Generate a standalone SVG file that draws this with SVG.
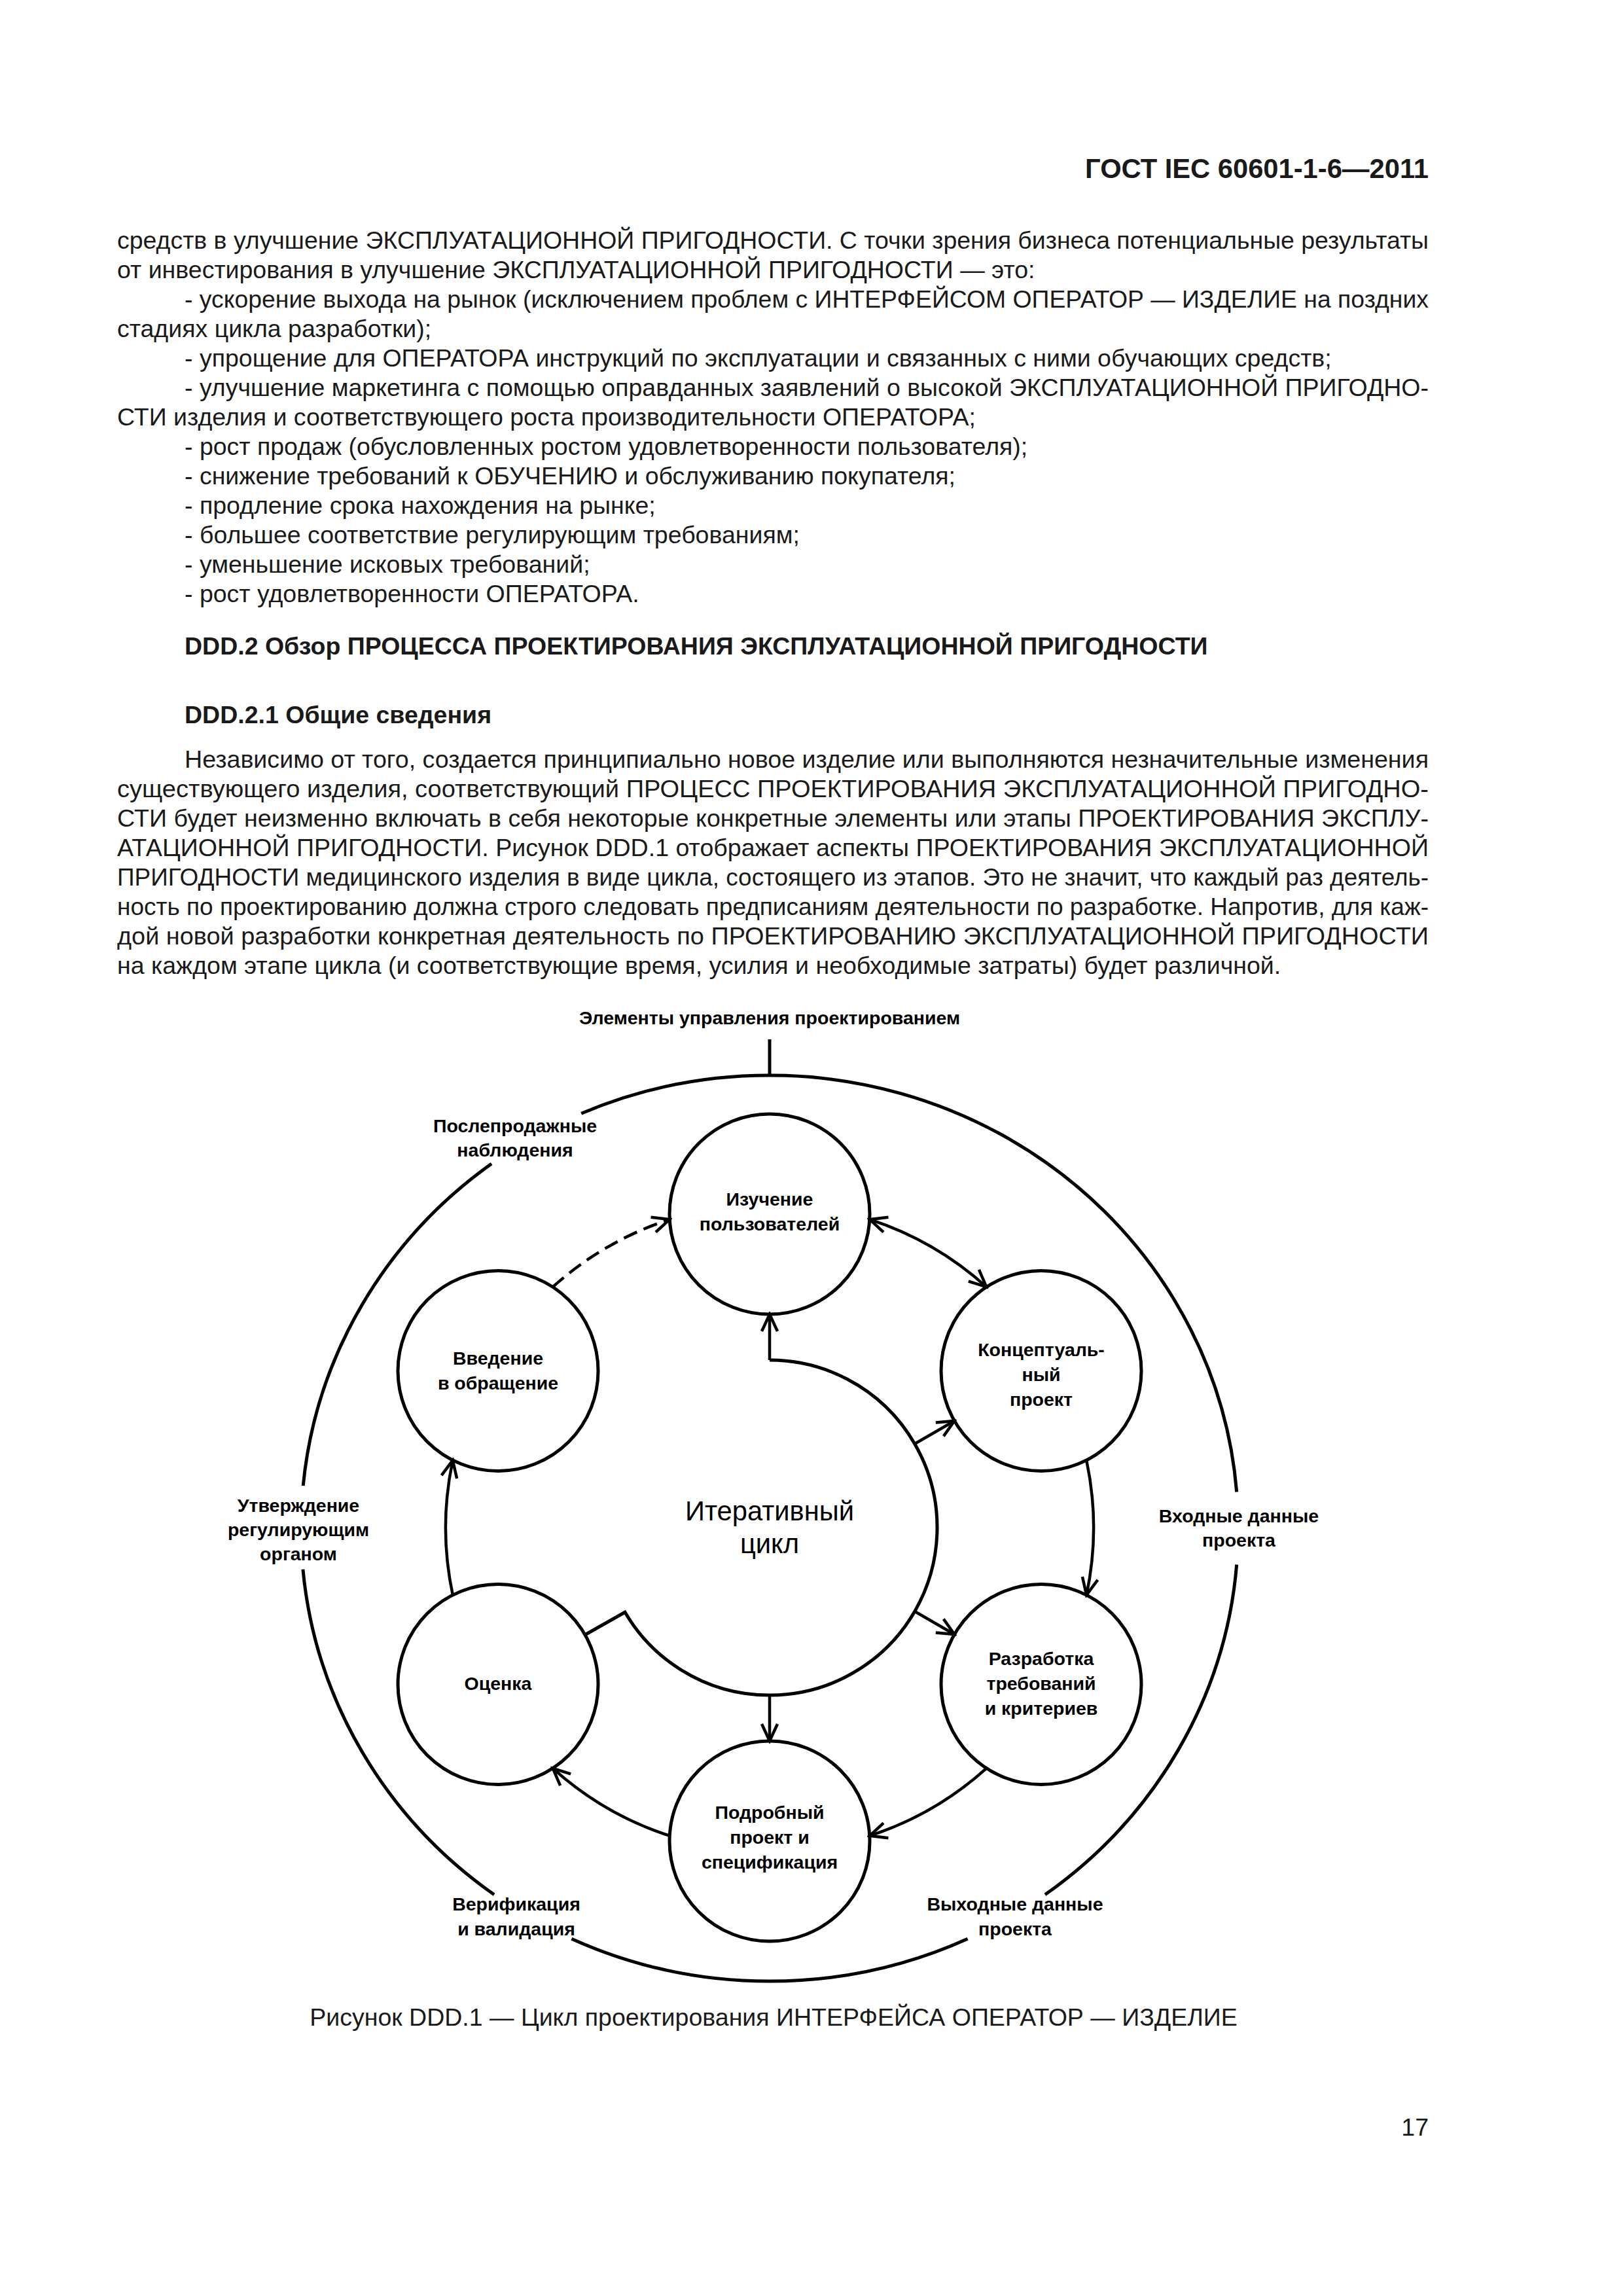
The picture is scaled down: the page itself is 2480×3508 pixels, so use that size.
<svg xmlns="http://www.w3.org/2000/svg" width="2480" height="3508" viewBox="0 0 2480 3508">
<style>
.t{font-family:"Liberation Sans",Arial,sans-serif;font-size:37.5px;fill:#1a1a1a}
.b{font-weight:bold}
.hd{font-family:"Liberation Sans",Arial,sans-serif;font-size:41.7px;font-weight:bold;fill:#1a1a1a}
.lb{font-family:"Liberation Sans",Arial,sans-serif;font-size:28.5px;font-weight:bold;fill:#000;text-anchor:middle}
.big{font-family:"Liberation Sans",Arial,sans-serif;font-size:41.7px;fill:#000;text-anchor:middle}
.node{fill:none;stroke:#000;stroke-width:5}
.ring{fill:none;stroke:#000;stroke-width:5}
.con{fill:none;stroke:#000;stroke-width:4.5}
.dash{stroke-dasharray:22 11}
</style>
<defs>
<marker id="ah" viewBox="-32 -18 36 36" refX="0" refY="0" markerWidth="36" markerHeight="36" markerUnits="userSpaceOnUse" orient="auto-start-reverse">
<path d="M-26,-12 L0,0 L-26,12" fill="none" stroke="#000" stroke-width="4.5"/>
</marker>
</defs>
<rect width="2480" height="3508" fill="#fff"/>

<text class="hd" x="2183" y="272" text-anchor="end">ГОСТ IEC 60601-1-6—2011</text>

<g id="body-text">
<text class="t" x="179" y="380" textLength="2004" lengthAdjust="spacingAndGlyphs">средств в улучшение ЭКСПЛУАТАЦИОННОЙ ПРИГОДНОСТИ. С точки зрения бизнеса потенциальные результаты</text>
<text class="t" x="179" y="425">от инвестирования в улучшение ЭКСПЛУАТАЦИОННОЙ ПРИГОДНОСТИ — это:</text>
<text class="t" x="282" y="470" textLength="1901" lengthAdjust="spacingAndGlyphs">- ускорение выхода на рынок (исключением проблем с ИНТЕРФЕЙСОМ ОПЕРАТОР — ИЗДЕЛИЕ на поздних</text>
<text class="t" x="179" y="515">стадиях цикла разработки);</text>
<text class="t" x="282" y="560">- упрощение для ОПЕРАТОРА инструкций по эксплуатации и связанных с ними обучающих средств;</text>
<text class="t" x="282" y="605" textLength="1901" lengthAdjust="spacingAndGlyphs">- улучшение маркетинга с помощью оправданных заявлений о высокой ЭКСПЛУАТАЦИОННОЙ ПРИГОДНО-</text>
<text class="t" x="179" y="650">СТИ изделия и соответствующего роста производительности ОПЕРАТОРА;</text>
<text class="t" x="282" y="695">- рост продаж (обусловленных ростом удовлетворенности пользователя);</text>
<text class="t" x="282" y="740">- снижение требований к ОБУЧЕНИЮ и обслуживанию покупателя;</text>
<text class="t" x="282" y="785">- продление срока нахождения на рынке;</text>
<text class="t" x="282" y="830">- большее соответствие регулирующим требованиям;</text>
<text class="t" x="282" y="875">- уменьшение исковых требований;</text>
<text class="t" x="282" y="920">- рост удовлетворенности ОПЕРАТОРА.</text>

<text class="t b" x="282" y="1000">DDD.2 Обзор ПРОЦЕССА ПРОЕКТИРОВАНИЯ ЭКСПЛУАТАЦИОННОЙ ПРИГОДНОСТИ</text>
<text class="t b" x="282" y="1105">DDD.2.1 Общие сведения</text>

<text class="t" x="282" y="1173" textLength="1901" lengthAdjust="spacingAndGlyphs">Независимо от того, создается принципиально новое изделие или выполняются незначительные изменения</text>
<text class="t" x="179" y="1218" textLength="2004" lengthAdjust="spacingAndGlyphs">существующего изделия, соответствующий ПРОЦЕСС ПРОЕКТИРОВАНИЯ ЭКСПЛУАТАЦИОННОЙ ПРИГОДНО-</text>
<text class="t" x="179" y="1263" textLength="2004" lengthAdjust="spacingAndGlyphs">СТИ будет неизменно включать в себя некоторые конкретные элементы или этапы ПРОЕКТИРОВАНИЯ ЭКСПЛУ-</text>
<text class="t" x="179" y="1308" textLength="2004" lengthAdjust="spacingAndGlyphs">АТАЦИОННОЙ ПРИГОДНОСТИ. Рисунок DDD.1 отображает аспекты ПРОЕКТИРОВАНИЯ ЭКСПЛУАТАЦИОННОЙ</text>
<text class="t" x="179" y="1353" textLength="2004" lengthAdjust="spacingAndGlyphs">ПРИГОДНОСТИ медицинского изделия в виде цикла, состоящего из этапов. Это не значит, что каждый раз деятель-</text>
<text class="t" x="179" y="1398" textLength="2004" lengthAdjust="spacingAndGlyphs">ность по проектированию должна строго следовать предписаниям деятельности по разработке. Напротив, для каж-</text>
<text class="t" x="179" y="1443" textLength="2004" lengthAdjust="spacingAndGlyphs">дой новой разработки конкретная деятельность по ПРОЕКТИРОВАНИЮ ЭКСПЛУАТАЦИОННОЙ ПРИГОДНОСТИ</text>
<text class="t" x="179" y="1488">на каждом этапе цикла (и соответствующие время, усилия и необходимые затраты) будет различной.</text>
</g>

<g id="outer-cycle">
<path class="ring" d="M888.2,1701.3 A716,692 0 0 1 1889.7,2279.5"/>
<path class="ring" d="M1889.7,2390.5 A716,692 0 0 1 1596.9,2894.8"/>
<path class="ring" d="M1478.6,2962.2 A716,692 0 0 1 873.4,2962.2"/>
<path class="ring" d="M755.1,2894.8 A716,692 0 0 1 462.9,2397.7"/>
<path class="ring" d="M463.2,2269.9 A716,692 0 0 1 751.1,1778.0"/>
<line class="ring" x1="1176" y1="1588" x2="1176" y2="1643"/>
</g>

<g id="outer-labels">
<text class="lb" x="1176" y="1565">Элементы управления проектированием</text>
<text class="lb" x="787" y="1730">Послепродажные</text>
<text class="lb" x="787" y="1767">наблюдения</text>
<text class="lb" x="1893" y="2326">Входные данные</text>
<text class="lb" x="1893" y="2363">проекта</text>
<text class="lb" x="1551" y="2919">Выходные данные</text>
<text class="lb" x="1551" y="2957">проекта</text>
<text class="lb" x="789" y="2919">Верификация</text>
<text class="lb" x="789" y="2957">и валидация</text>
<text class="lb" x="456" y="2310">Утверждение</text>
<text class="lb" x="456" y="2347">регулирующим</text>
<text class="lb" x="456" y="2384">органом</text>
</g>

<g id="iterative-cycle">
<path class="ring" d="M1176,2078 A256,256 0 1 1 955,2463.2 L894,2497.7"/>
<text class="big" x="1176" y="2323">Итеративный</text>
<text class="big" x="1176" y="2373">цикл</text>
</g>

<g id="node-users">
<circle class="node" cx="1176" cy="1855" r="153"/>
<text class="lb" x="1176" y="1842">Изучение</text>
<text class="lb" x="1176" y="1880">пользователей</text>
</g>
<g id="node-concept">
<circle class="node" cx="1591" cy="2094.5" r="153"/>
<text class="lb" x="1591" y="2072">Концептуаль-</text>
<text class="lb" x="1591" y="2110">ный</text>
<text class="lb" x="1591" y="2148">проект</text>
</g>
<g id="node-requirements">
<circle class="node" cx="1591" cy="2573.5" r="153"/>
<text class="lb" x="1591" y="2544">Разработка</text>
<text class="lb" x="1591" y="2582">требований</text>
<text class="lb" x="1591" y="2620">и критериев</text>
</g>
<g id="node-detailed">
<circle class="node" cx="1176" cy="2813" r="153"/>
<text class="lb" x="1176" y="2779">Подробный</text>
<text class="lb" x="1176" y="2817">проект и</text>
<text class="lb" x="1176" y="2855">спецификация</text>
</g>
<g id="node-evaluation">
<circle class="node" cx="761" cy="2573.5" r="153"/>
<text class="lb" x="761" y="2582">Оценка</text>
</g>
<g id="node-release">
<circle class="node" cx="761" cy="2094.5" r="153"/>
<text class="lb" x="761" y="2085">Введение</text>
<text class="lb" x="761" y="2123">в обращение</text>
</g>

<g id="connectors">
<path class="con" d="M1329.0,1863.2 A495,495 0 0 1 1507.2,1966.2" marker-start="url(#ah)" marker-end="url(#ah)"/>
<path class="con" d="M1660.2,2231.1 A495,495 0 0 1 1660.2,2436.9" marker-end="url(#ah)"/>
<path class="con" d="M1507.2,2701.8 A495,495 0 0 1 1329.0,2804.8" marker-end="url(#ah)"/>
<path class="con" d="M1023.0,2804.8 A495,495 0 0 1 844.8,2701.8" marker-end="url(#ah)"/>
<path class="con" d="M691.8,2436.9 A495,495 0 0 1 691.8,2231.1" marker-end="url(#ah)"/>
<path class="con dash" d="M844.8,1966.2 A495,495 0 0 1 1023.0,1863.2" marker-end="url(#ah)"/>
<line class="con" x1="1176" y1="2078" x2="1176" y2="2008" marker-end="url(#ah)"/>
<line class="con" x1="1397.7" y1="2206" x2="1458.3" y2="2171" marker-end="url(#ah)"/>
<line class="con" x1="1397.7" y1="2462" x2="1458.3" y2="2497" marker-end="url(#ah)"/>
<line class="con" x1="1176" y1="2590" x2="1176" y2="2660" marker-end="url(#ah)"/>
</g>

<text class="t" x="1182" y="3095" text-anchor="middle">Рисунок DDD.1 — Цикл проектирования ИНТЕРФЕЙСА ОПЕРАТОР — ИЗДЕЛИЕ</text>
<text class="t" x="2183" y="3263" text-anchor="end">17</text>
</svg>
